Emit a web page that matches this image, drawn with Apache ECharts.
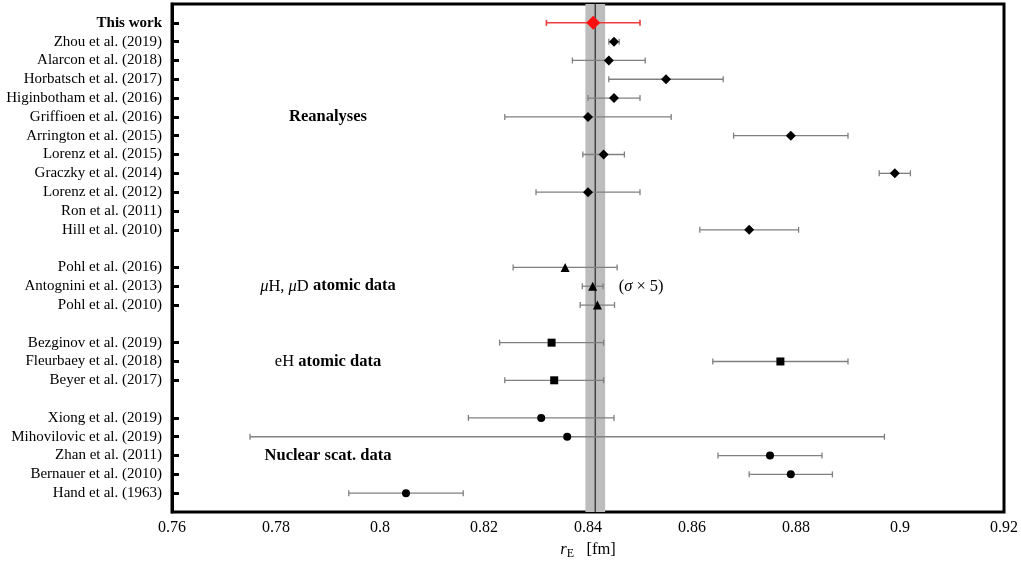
<!DOCTYPE html>
<html>
<head>
<meta charset="utf-8">
<script src="https://cdn.jsdelivr.net/npm/echarts@6/dist/echarts.min.js"></script>
<style>
  html, body { margin: 0; padding: 0; background: #fff; }
  #chart { width: 1021px; height: 564px; }
</style>
</head>
<body>
<div id="chart"></div>
<script>
// Proton radius comparison: value ± error per study, grouped by method
const TOP = ['This work']
const REAN = ['Zhou et al. (2019)', 'Alarcon et al. (2018)', 'Horbatsch et al. (2017)', 'Higinbotham et al. (2016)',
  'Griffioen et al. (2016)', 'Arrington et al. (2015)', 'Lorenz et al. (2015)', 'Graczky et al. (2014)',
  'Lorenz et al. (2012)', 'Ron et al. (2011)', 'Hill et al. (2010)']
const MU = ['Pohl et al. (2016)', 'Antognini et al. (2013)', 'Pohl et al. (2010)']
const EH = ['Bezginov et al. (2019)', 'Fleurbaey et al. (2018)', 'Beyer et al. (2017)']
const NUC = ['Xiong et al. (2019)', 'Mihovilovic et al. (2019)', 'Zhan et al. (2011)', 'Bernauer et al. (2010)', 'Hand et al. (1963)']

const TOP_VAL = [0.841], TOP_ERR = [0.009]
const REAN_VAL = [0.845, 0.844, 0.855, 0.845, 0.840, 0.879, 0.843, 0.899, 0.840, null, 0.871]
const REAN_ERR = [0.001, 0.007, 0.011, 0.005, 0.016, 0.011, 0.004, 0.003, 0.010, null, 0.0095]
const MU_VAL = [0.8356, 0.8409, 0.8418]
const MU_ERR = [0.010, 0.002, 0.0033]
const EH_VAL = [0.833, 0.877, 0.8335]
const EH_ERR = [0.010, 0.013, 0.0095]
const NUC_VAL = [0.831, 0.836, 0.875, 0.879, 0.805]
const NUC_ERR = [0.014, 0.061, 0.010, 0.008, 0.011]
const CODATA = [0.8414, 0.0019]
const X_TICKS = { min: 0.76, max: 0.92, step: 0.02 }

const LABELS = ['', ...TOP, ...REAN, '', ...MU, '', ...EH, '', ...NUC, '']
const FONT = '"Liberation Serif", "DejaVu Serif", serif'

function pts(names, vals) {
  const out = []
  names.forEach((n, i) => { if (vals[i] != null) out.push([vals[i], LABELS.indexOf(n)]) })
  return out
}
function bars(names, vals, errs) {
  const out = []
  names.forEach((n, i) => { if (vals[i] != null) out.push([vals[i] - errs[i], vals[i] + errs[i], LABELS.indexOf(n)]) })
  return out
}
function errSeries(data, color, w) {
  return {
    type: 'custom', z: 3, data: data, encode: { x: [0, 1], y: 2 },
    renderItem: (params, api) => {
      const a = api.coord([api.value(0), api.value(2)])
      const b = api.coord([api.value(1), api.value(2)])
      const st = { stroke: color, lineWidth: w }
      return { type: 'group', children: [
        { type: 'line', shape: { x1: a[0], y1: a[1], x2: b[0], y2: b[1] }, style: st },
        { type: 'line', shape: { x1: a[0], y1: a[1] - 3, x2: a[0], y2: a[1] + 3 }, style: st },
        { type: 'line', shape: { x1: b[0], y1: b[1] - 3, x2: b[0], y2: b[1] + 3 }, style: st }
      ] }
    }
  }
}
function mark(data, symbol, size, color) {
  return { type: 'scatter', z: 5, data: data, symbol: symbol, symbolSize: size, itemStyle: { color: color, opacity: 1 } }
}

const RICH = {
  b: { fontFamily: FONT, fontSize: 16.5, fontWeight: 'bold', color: '#000' },
  r: { fontFamily: FONT, fontSize: 16.5, color: '#000' },
  i: { fontFamily: FONT, fontSize: 16.5, fontStyle: 'italic', color: '#000' }
}
const NOTES = [
  [0.79, LABELS.indexOf('Griffioen et al. (2016)'), '{b|Reanalyses}'],
  [0.79, LABELS.indexOf('Antognini et al. (2013)'), '{i|μ}{r|H, }{i|μ}{r|D }{b|atomic data}'],
  [0.79, LABELS.indexOf('Fleurbaey et al. (2018)'), '{r|eH }{b|atomic data}'],
  [0.79, LABELS.indexOf('Zhan et al. (2011)'), '{b|Nuclear scat. data}']
]

const chart = echarts.init(document.getElementById('chart'))
const allBars = [...bars(REAN, REAN_VAL, REAN_ERR), ...bars(MU, MU_VAL, MU_ERR), ...bars(EH, EH_VAL, EH_ERR), ...bars(NUC, NUC_VAL, NUC_ERR)]
const lastRow = LABELS.length - 1

chart.setOption({
  animation: false,
  grid: { left: 172, right: 17, top: 4, bottom: 52, containLabel: false, outerBoundsMode: 'none',
    show: true, borderColor: '#000', borderWidth: 3 },
  xAxis: [{
    type: 'value', min: X_TICKS.min, max: X_TICKS.max, interval: X_TICKS.step,
    axisLine: { lineStyle: { color: '#000', width: 3 } },
    axisTick: { inside: true, length: 6, lineStyle: { color: '#000', width: 3 } },
    splitLine: { show: false },
    axisLabel: { fontFamily: FONT, fontSize: 16, color: '#000', margin: 8 },
    name: '{i|r}{s|E}{r|   [fm]}', nameLocation: 'middle', nameGap: 27,
    nameTextStyle: { rich: { i: RICH.i, r: RICH.r, s: { fontFamily: FONT, fontSize: 12, color: '#000', padding: [8, 0, 0, 0] } } }
  }, {
    type: 'value', position: 'top', min: X_TICKS.min, max: X_TICKS.max, interval: X_TICKS.step,
    axisLine: { lineStyle: { color: '#000', width: 3 } },
    axisTick: { inside: true, length: 6, lineStyle: { color: '#000', width: 3 } },
    splitLine: { show: false }, axisLabel: { show: false }
  }],
  yAxis: {
    type: 'category', data: LABELS, inverse: true, boundaryGap: false,
    axisLine: { lineStyle: { color: '#000', width: 3 } },
    axisTick: { inside: true, length: 7, interval: (i, v) => v !== '', lineStyle: { color: '#000', width: 3 } },
    axisLabel: {
      interval: 0, margin: 10, fontFamily: FONT, fontSize: 15, color: '#000',
      formatter: v => v === 'This work' ? '{b|This work}' : v,
      rich: { b: { fontFamily: FONT, fontSize: 15, fontWeight: 'bold', color: '#000' } }
    },
    splitLine: { show: false }
  },
  series: [
    {
      type: 'line', z: 2, symbol: 'none', silent: true,
      data: [[CODATA[0], 0], [CODATA[0], lastRow]],
      lineStyle: { color: '#444', width: 1.5 },
      markArea: { silent: true, itemStyle: { color: '#bdbdbd' },
        data: [[{ xAxis: CODATA[0] - CODATA[1] }, { xAxis: CODATA[0] + CODATA[1] }]] }
    },
    errSeries(allBars, '#808080', 1.3),
    errSeries(bars(TOP, TOP_VAL, TOP_ERR), '#f03c3c', 1.6),
    mark(pts(TOP, TOP_VAL), 'diamond', 14, '#ff1010'),
    mark(pts(REAN, REAN_VAL), 'diamond', 10, '#000'),
    mark(pts(MU, MU_VAL), 'triangle', 9, '#000'),
    mark(pts(EH, EH_VAL), 'rect', 8, '#000'),
    mark(pts(NUC, NUC_VAL), 'circle', 8, '#000'),
    {
      type: 'scatter', z: 6, symbolSize: 0, data: NOTES, silent: true, itemStyle: { opacity: 1 },
      label: { show: true, position: 'inside', formatter: p => p.data[2], rich: RICH }
    },
    {
      type: 'scatter', z: 6, symbolSize: 0, silent: true, itemStyle: { opacity: 1 },
      data: [[0.8459, LABELS.indexOf('Antognini et al. (2013)'), '{r|(}{i|σ}{r| × 5)}']],
      label: { show: true, position: 'right', distance: 0, formatter: p => p.data[2], rich: RICH }
    }
  ]
})
</script>
</body>
</html>
